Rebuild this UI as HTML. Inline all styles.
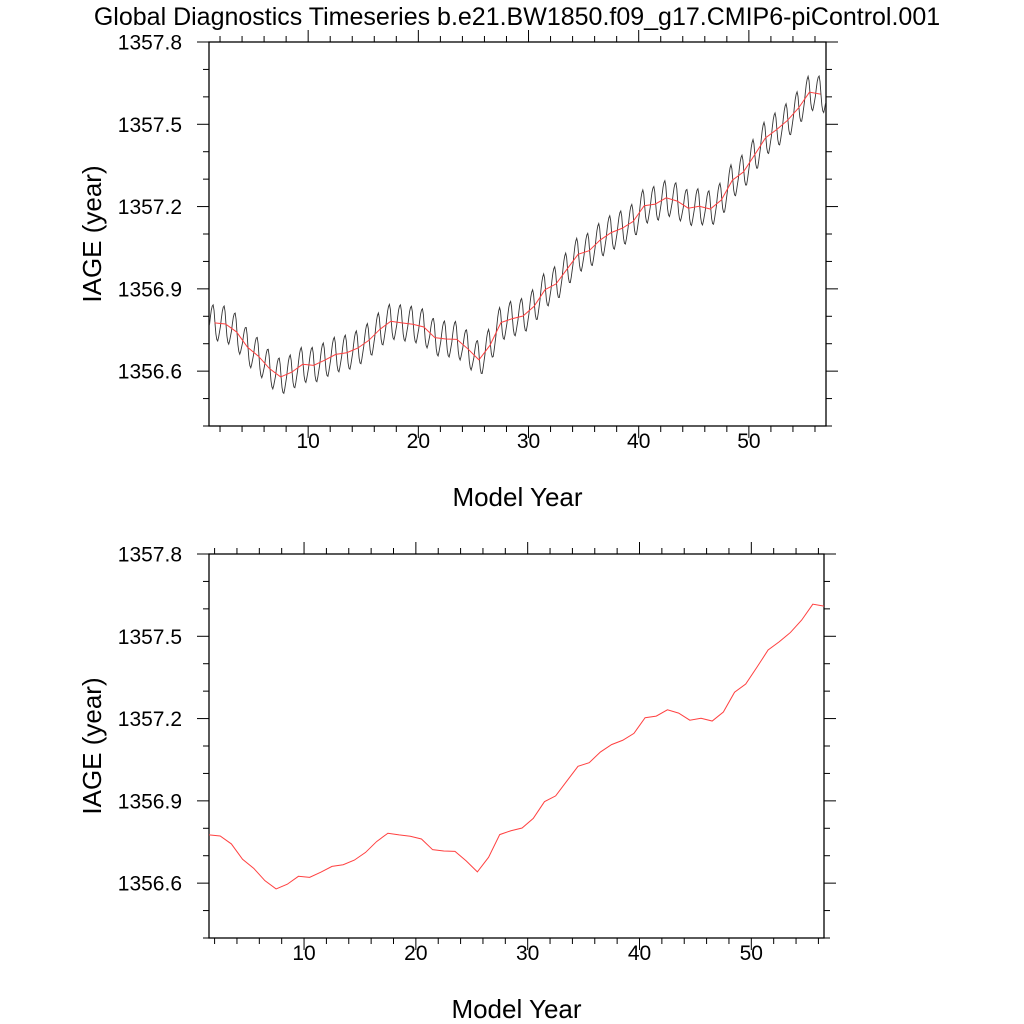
<!DOCTYPE html>
<html><head><meta charset="utf-8"><style>
html,body{margin:0;padding:0;background:#fff;}
svg{display:block;font-family:"Liberation Sans",sans-serif;}
</style></head><body>
<svg id="chart" width="1024" height="1024" viewBox="0 0 1024 1024">
<text x="517" y="25" font-size="25" text-anchor="middle">Global Diagnostics Timeseries b.e21.BW1850.f09_g17.CMIP6-piControl.001</text>
<g id="top"></g>
<g id="bot"></g>
</svg>
<script>
const annualYears = [1.5,2.5,3.5,4.5,5.5,6.5,7.5,8.5,9.5,10.5,11.5,12.5,13.5,14.5,15.5,16.5,17.5,18.5,19.5,20.5,21.5,22.5,23.5,24.5,25.5,26.5,27.5,28.5,29.5,30.5,31.5,32.5,33.5,34.5,35.5,36.5,37.5,38.5,39.5,40.5,41.5,42.5,43.5,44.5,45.5,46.5,47.5,48.5,49.5,50.5,51.5,52.5,53.5,54.5,55.5,56.5];
const annualMean = [1356.776,1356.772,1356.743,1356.687,1356.654,1356.609,1356.579,1356.596,1356.625,1356.621,1356.640,1356.661,1356.667,1356.684,1356.712,1356.752,1356.782,1356.776,1356.771,1356.761,1356.722,1356.717,1356.716,1356.681,1356.641,1356.694,1356.777,1356.791,1356.801,1356.836,1356.897,1356.918,1356.972,1357.026,1357.039,1357.078,1357.105,1357.121,1357.146,1357.203,1357.209,1357.232,1357.220,1357.194,1357.201,1357.191,1357.224,1357.296,1357.326,1357.387,1357.450,1357.480,1357.514,1357.559,1357.617,1357.610];
const seasonalAnom = [-0.01,0.02,0.045,0.06,0.065,0.045,0.0,-0.04,-0.06,-0.065,-0.05,-0.03];
const yTickLabels = ["1356.6","1356.9","1357.2","1357.5","1357.8"];
const xTickLabels = ["10","20","30","40","50"];
const NS="http://www.w3.org/2000/svg";
function mk(tag,attrs,parent){const e=document.createElementNS(NS,tag);for(const k in attrs)e.setAttribute(k,attrs[k]);parent.appendChild(e);return e;}
function interp(t){
  const n=annualYears.length;
  if(t<=annualYears[0]){const s=(annualMean[1]-annualMean[0]);return annualMean[0]+(t-annualYears[0])*s;}
  if(t>=annualYears[n-1]){const s=(annualMean[n-1]-annualMean[n-2]);return annualMean[n-1]+(t-annualYears[n-1])*s;}
  for(let i=0;i<n-1;i++){if(t>=annualYears[i]&&t<=annualYears[i+1]){const f=(t-annualYears[i])/(annualYears[i+1]-annualYears[i]);return annualMean[i]+f*(annualMean[i+1]-annualMean[i]);}}
}
function panel(g,L,R,T,B,x0,x1,withMonthly){
  const ymin=1356.4,ymax=1357.8;
  const X=v=>L+(v-x0)/(x1-x0)*(R-L);
  const Y=v=>B-(v-ymin)/(ymax-ymin)*(B-T);
  const fr=mk('rect',{x:L,y:T,width:R-L,height:B-T,fill:'none',stroke:'#000','stroke-width':1.3},g);
  
  
  for(let k=0;k<=14;k++){
    const v=ymin+k*0.1, y=Y(v), major=(k%3===2);
    const len=major?12:6;
    const a=mk('line',{x1:L-len,x2:L,y1:y,y2:y,stroke:'#000','stroke-width':1},g);
    
    
    const b=mk('line',{x1:R,x2:R+len,y1:y,y2:y,stroke:'#000','stroke-width':1},g);
    
    
  }
  yTickLabels.forEach(s=>{
    const t=mk('text',{x:L-27,y:Y(parseFloat(s))+7.5,'font-size':21,'text-anchor':'end'},g);
    t.textContent=s;
    
    
  });
  for(let v=2;v<=x1;v+=2){
    if(v<x0)continue;
    const x=X(v), major=(v%10===0), len=major?12:6;
    const a=mk('line',{x1:x,x2:x,y1:B,y2:B+len,stroke:'#000','stroke-width':1},g);
    
    
    const b=mk('line',{x1:x,x2:x,y1:T-len,y2:T,stroke:'#000','stroke-width':1},g);
    
    
  }
  xTickLabels.forEach(s=>{
    const t=mk('text',{x:X(parseFloat(s)),y:B+22,'font-size':21,'text-anchor':'middle'},g);
    t.textContent=s;
    
    
  });
  const xt=mk('text',{x:(L+R)/2,y:B+80,'font-size':26,'text-anchor':'middle'},g);
  xt.textContent='Model Year';
  
  
  const cy=(T+B)/2;
  const yt=mk('text',{x:101,y:cy,'font-size':26,'text-anchor':'middle',transform:`rotate(-90 101 ${cy})`},g);
  yt.textContent='IAGE (year)';
  
  
  const clipId='c'+T;
  const cp=mk('clipPath',{id:clipId},g);mk('rect',{x:L,y:T,width:R-L,height:B-T},cp);
  if(withMonthly){
    let d='';
    for(let yr=1;yr<=56;yr++)for(let m=0;m<12;m++){
      const t=yr+(m+0.5)/12;
      const v=interp(t)+seasonalAnom[m];
      d+=(d?'L':'M')+X(t).toFixed(2)+','+Y(v).toFixed(2);
    }
    const p=mk('path',{d:d,fill:'none',stroke:'#333','stroke-width':0.9,'clip-path':`url(#${clipId})`},g);
    
    
  }
  let d2='';
  annualYears.forEach((t,i)=>{d2+=(i?'L':'M')+X(t).toFixed(2)+','+Y(annualMean[i]).toFixed(2);});
  const r=mk('path',{d:d2,fill:'none',stroke:'#ff4040','stroke-width':1,'clip-path':`url(#${clipId})`},g);
  
  
}
panel(document.getElementById('top'),209,826,42,426,1,57,true);
panel(document.getElementById('bot'),209,824,554,938,1.5,56.5,false);
</script>
</body></html>
